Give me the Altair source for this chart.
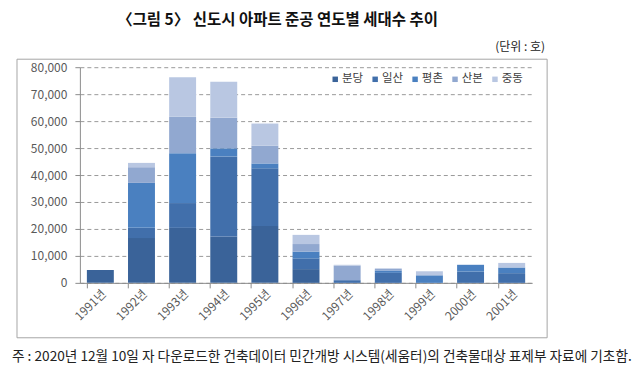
import altair as alt
import pandas as pd

years = ["1991년", "1992년", "1993년", "1994년", "1995년", "1996년",
         "1997년", "1998년", "1999년", "2000년", "2001년"]
cities = ["분당", "일산", "평촌", "산본", "중동"]
colors = ["#3a6399", "#416fab", "#4a80c0", "#91a8d0", "#b9c7e2"]

bundang = [4800, 16600, 20400, 17200, 21100, 5100, 0, 0, 0, 0, 0]
ilsan   = [0, 3800, 9200, 29700, 21400, 4000, 1000, 3700, 0, 4200, 3600]
pyeongchon = [0, 16700, 18500, 3000, 1800, 2500, 0, 900, 2800, 2500, 2100]
sanbon  = [0, 5800, 13500, 11400, 6600, 2800, 5400, 700, 0, 0, 0]
jungdong = [0, 1600, 14700, 13300, 8200, 3400, 300, 0, 1500, 0, 1700]

series = [bundang, ilsan, pyeongchon, sanbon, jungdong]
rows = []
for ci, (c, vals) in enumerate(zip(cities, series)):
    for y, v in zip(years, vals):
        rows.append({"연도": y, "도시": c, "세대수": v, "순서": ci})
df = pd.DataFrame(rows)

title_text = ["〈그림 5〉 신도시 아파트 준공 연도별 세대수 추이"]
unit_text = ["(단위 : 호)"]
note_text = ["주 : 2020년 12월 10일 자 다운로드한 건축데이터 민간개방 시스템(세움터)의 건축물대상 표제부 자료에 기초함."]

FONT = "Noto Sans CJK KR"
W, H = 453, 216

xscale = alt.Scale(domain=years, paddingInner=0.345, paddingOuter=0.17)

bars = alt.Chart(df).mark_bar().encode(
    x=alt.X("연도:N", scale=xscale, sort=years,
            axis=alt.Axis(title=None, orient="bottom", labelAngle=-45, labelFont=FONT,
                          labelFontSize=12, labelColor="#595959",
                          ticks=False, domain=False, labelPadding=5, grid=False)),
    y=alt.Y("세대수:Q", stack="zero",
            scale=alt.Scale(domain=[0, 80000], nice=False),
            axis=alt.Axis(title=None, values=list(range(0, 80001, 10000)),
                          format=",d", labelFont=FONT, labelFontSize=12,
                          labelColor="#595959", grid=True, gridDash=[4, 3],
                          gridColor="#9a9a9a", domainColor="#8c8c8c",
                          tickColor="#8c8c8c", tickSize=5, labelPadding=8)),
    color=alt.Color("도시:N", scale=alt.Scale(domain=cities, range=colors),
                    legend=alt.Legend(title=None, orient="none", direction="horizontal",
                                      legendX=250, legendY=6, symbolType="square",
                                      symbolSize=30, labelFont=FONT, labelFontSize=11.5,
                                      labelColor="#404040", columnPadding=6,
                                      symbolStrokeWidth=0, labelOffset=1)),
    order=alt.Order("순서:Q", sort="ascending"),
)

tick_layer = alt.Chart(df).mark_bar(opacity=0).encode(
    x=alt.X("연도:N", scale=xscale, sort=years,
            axis=alt.Axis(title=None, orient="bottom", labels=False, bandPosition=0,
                          domainColor="#8c8c8c", tickColor="#8c8c8c", tickSize=5,
                          grid=False)),
)

frame = alt.Chart(pd.DataFrame({"k": [0]})).mark_rect(
    fill=None, stroke="#a6a6a6", strokeWidth=1
).encode(x=alt.value(-63), x2=alt.value(468), y=alt.value(-8), y2=alt.value(271))

title = alt.Chart(pd.DataFrame({"t": title_text})).mark_text(
    font=FONT, fontSize=15.5, fontWeight="bold", color="#111111", align="center",
    baseline="middle"
).encode(x=alt.value(198), y=alt.value(-47), text="t:N")

unit = alt.Chart(pd.DataFrame({"t": unit_text})).mark_text(
    font=FONT, fontSize=12, color="#222222", align="right", baseline="middle"
).encode(x=alt.value(466), y=alt.value(-20), text="t:N")

note = alt.Chart(pd.DataFrame({"t": note_text})).mark_text(
    font=FONT, fontSize=13.7, color="#222222", align="left", baseline="middle"
).encode(x=alt.value(-68), y=alt.value(290), text="t:N")

chart = alt.layer(frame, tick_layer, bars, title, unit, note).resolve_axis(
    x="independent"
).properties(
    width=W, height=H,
    autosize=alt.AutoSizeParams(type="none"),
    padding={"left": 72, "top": 59, "right": 100, "bottom": 94},
).configure_view(stroke=None)

chart.save("out.html", embed_options={"renderer": "svg", "actions": False})
